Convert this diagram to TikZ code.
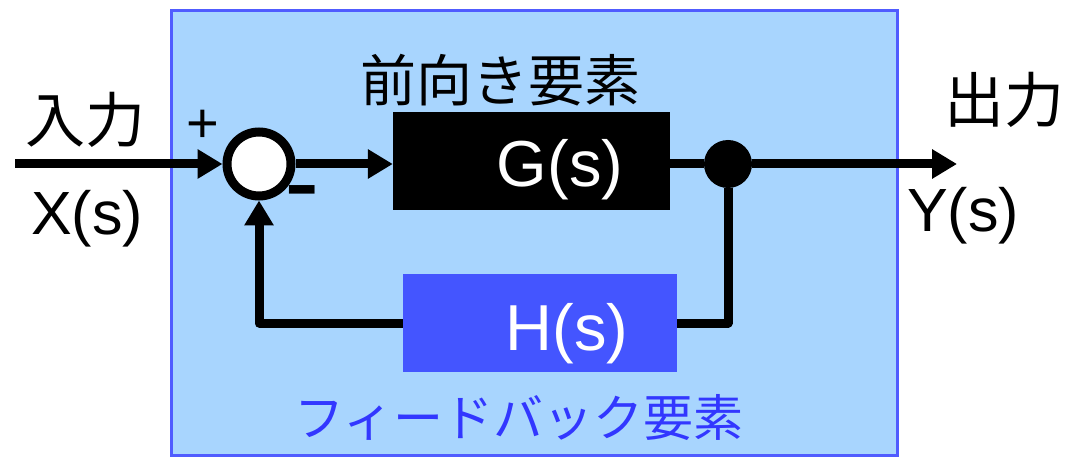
\documentclass[tikz,border=0pt]{standalone}
\usepackage{fontspec}
\setmainfont{Liberation Sans}
\newfontfamily\jp{Noto Sans CJK JP}
\usetikzlibrary{arrows.meta}
\definecolor{bgblue}{RGB}{168,213,254}
\definecolor{frameblue}{RGB}{80,92,255}
\definecolor{hblue}{RGB}{68,85,255}
\definecolor{tblue}{RGB}{50,55,255}
\begin{document}
\begin{tikzpicture}[x=1pt,y=-1pt,
  conn/.style={line width=9pt, line join=round},
  arr/.style={conn, -{Triangle[length=25pt,width=28pt]}},
  lat/.style={inner sep=0pt, anchor=base},
  jptext/.style={inner sep=0pt, font=\jp\fontsize{#1}{#1}\selectfont},
  blockbox/.style={inner sep=0pt, minimum width=#1, minimum height=98pt}
]
\useasboundingbox (0,0) rectangle (1071,457);
\draw[frameblue, line width=3pt, fill=bgblue] (171,11) rectangle (897,455);
\node[circle, draw, line width=9pt, fill=white, minimum size=64pt, inner sep=0pt, outer sep=4.5pt] (sum) at (259,164) {};
\node[blockbox=277pt, fill=black] (G) at (531.5,161) {};
\node[circle, fill=black, minimum size=48pt, inner sep=0pt] (dot) at (728,164) {};
\node[blockbox=274pt, fill=hblue] (H) at (540,323) {};
\coordinate (in) at (15,164);
\coordinate (out) at (957,164);
\draw[arr] (in) -- (sum.west);
\draw[arr] (sum.east) -- (G.west |- sum.east);
\draw[conn] (G.east |- dot) -- (dot);
\draw[arr] (dot) -- (out);
\draw[conn] (dot) |- (H.east);
\draw[arr] (H.west) -| (sum.south);
\node[lat, white, font=\fontsize{65}{65}\selectfont] (Gt) at (560,187) {G(s)};
\node[lat, white, font=\fontsize{65}{65}\selectfont] (Ht) at (567,350) {H(s)};
\node[lat, font=\fontsize{61}{61}\selectfont] (Xt) at (87,235) {X(s)};
\node[lat, font=\fontsize{61}{61}\selectfont] (Yt) at (963,232) {Y(s)};
\node[jptext=60pt] (inlab) at (85,120) {入力};
\node[jptext=60pt] (outlab) at (1004,100) {出力};
\node[jptext=56pt] (fwd) at (500,80) {前向き要素};
\node[jptext=50pt, text=tblue] (fb) at (519,418) {フィードバック要素};
\node[inner sep=0pt, font=\fontsize{56}{56}\selectfont] (plus) at (203,126) {+};
\node[inner sep=0pt, font=\bfseries\fontsize{72}{72}\selectfont] (minus) at (302,197) {\scalebox{1.4}[1]{-}};
\end{tikzpicture}
\end{document}
